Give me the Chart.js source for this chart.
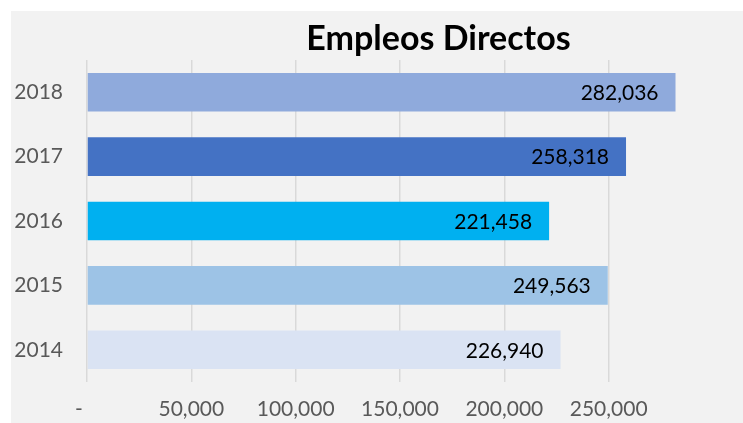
<!DOCTYPE html>
<html>
<head>
<meta charset="utf-8">
<script src="https://cdn.jsdelivr.net/npm/chart.js@4.4.1/dist/chart.umd.min.js"></script>
<style>
  html, body { margin: 0; padding: 0; background: #ffffff; }
  #wrap { position: absolute; left: 11px; top: 11px; width: 732px; height: 412px; background: #f2f2f2; }
  canvas { display: block; }
</style>
</head>
<body>
<div id="wrap"><canvas id="chart" width="732" height="412"></canvas></div>
<script>
// Empleos directos por año
const years = ['2018', '2017', '2016', '2015', '2014'];
const empleos = [282036, 258318, 221458, 249563, 226940];
const barColors = ['#8FAADC', '#4472C4', '#00B0F0', '#9DC3E6', '#DAE3F3'];
const chartTitle = 'Empleos Directos';

const FONT = 'Lato, "Open Sans", sans-serif';
const fmt = v => v.toLocaleString('en-US');

// Value labels drawn inside the end of each bar
const valueLabels = {
  id: 'valueLabels',
  afterDatasetsDraw(chart) {
    const ctx = chart.ctx;
    const meta = chart.getDatasetMeta(0);
    ctx.save();
    ctx.font = '21px ' + FONT;
    ctx.fillStyle = '#000000';
    ctx.textAlign = 'right';
    ctx.textBaseline = 'middle';
    meta.data.forEach((bar, i) => {
      const p = bar.getProps(['x', 'y'], true);
      ctx.fillText(fmt(chart.data.datasets[0].data[i]), p.x - 17, p.y + 1);
    });
    ctx.restore();
  }
};

// Title placed over the right part of the plot
const titleText = {
  id: 'titleText',
  afterDraw(chart) {
    const ctx = chart.ctx;
    ctx.save();
    ctx.font = 'bold 34px ' + FONT;
    ctx.fillStyle = '#000000';
    ctx.textAlign = 'center';
    ctx.textBaseline = 'alphabetic';
    ctx.fillText(chartTitle, chart.width * 0.584, 39);
    ctx.restore();
  }
};

new Chart(document.getElementById('chart'), {
  type: 'bar',
  data: {
    labels: years,
    datasets: [{
      data: empleos,
      backgroundColor: barColors,
      borderWidth: 0,
      barPercentage: 0.6,
      categoryPercentage: 1.0
    }]
  },
  options: {
    indexAxis: 'y',
    responsive: false,
    animation: false,
    layout: { padding: { top: 49, right: 30, left: 0, bottom: 0 } },
    plugins: {
      legend: { display: false },
      tooltip: { enabled: false },
      title: { display: false }
    },
    scales: {
      x: {
        min: 0,
        max: 300000,
        afterBuildTicks(scale) {
          scale.ticks = scale.ticks.filter(t => t.value < 300000);
        },
        afterFit(scale) { scale.height = 41; },
        ticks: {
          stepSize: 50000,
          padding: 15,
          color: '#595959',
          font: { family: FONT, size: 21 },
          maxRotation: 0,
          callback: v => (v === 0 ? '-\u00a0\u00a0\u00a0' : fmt(v))
        },
        grid: { color: '#d9d9d9', lineWidth: 1.5, drawTicks: false },
        border: { display: false }
      },
      y: {
        afterFit(scale) { scale.width = 76; },
        ticks: {
          padding: 24,
          color: '#595959',
          font: { family: FONT, size: 21 }
        },
        grid: { display: false, drawTicks: false },
        border: { display: false }
      }
    }
  },
  plugins: [valueLabels, titleText]
});
</script>
</body>
</html>
